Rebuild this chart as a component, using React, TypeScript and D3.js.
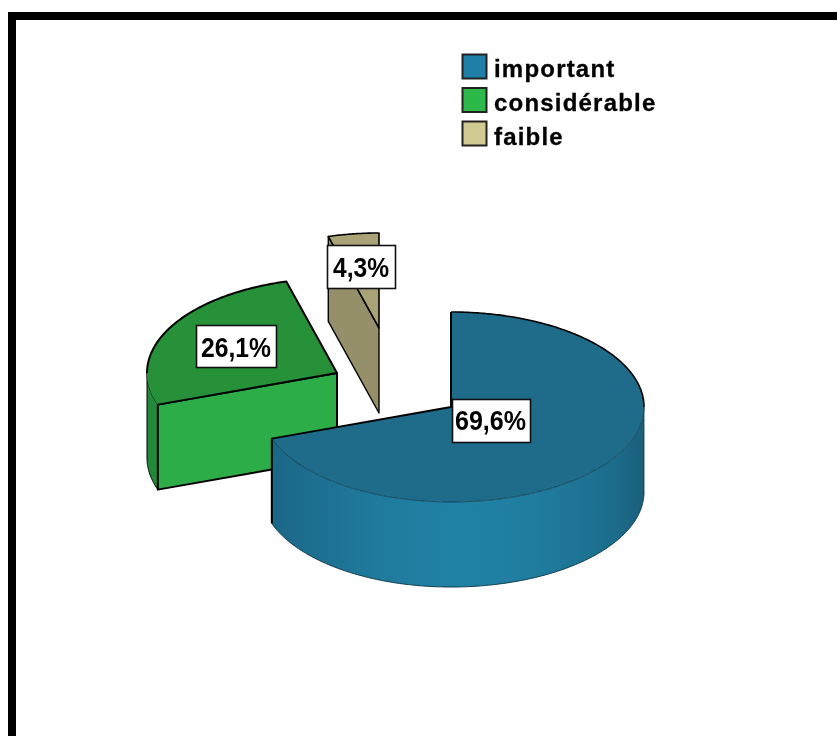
import React from "react";
import * as d3 from "d3";

const categories = ["important", "considérable", "faible"];
const seriesValues = [69.6, 26.1, 4.3];
const valueLabels = ["69,6%", "26,1%", "4,3%"];
const topColors = ["#1e6c8a", "#27913a", "#a9a377"];
const faceColors = ["#1e6c8a", "#2dad48", "#96906a"];
const swatchColors = ["#1f7fa6", "#2db84a", "#d1cb93"];

const W = 837;
const H = 736;
const RX_EAST = 193;
const RX_WEST = 190;
const RY = 95;
const DEPTH = 85;
// Exploded slice centres on the canvas.
const centres: [number, number][] = [[451, 407], [337, 373], [379, 328]];
const labelBoxes = [
  { x: 452, y: 399, w: 78, h: 43, tx: 455, tw: 71, base: 430 },
  { x: 196, y: 325, w: 80, h: 42, tx: 201, tw: 70, base: 357 },
  { x: 327, y: 245, w: 68, h: 43, tx: 333, tw: 56, base: 277 },
];

const pie = d3.pie<number>().sort(null).value((d) => d);
const arcs = pie(seriesValues);

type P = [number, number];

// Point on the rim; the receding west half is drawn slightly narrower.
function pt(c: P, a: number, dy = 0): P {
  const s = Math.sin(a);
  return [c[0] + (s < 0 ? RX_WEST : RX_EAST) * s, c[1] - RY * Math.cos(a) + dy];
}

function rim(c: P, a0: number, a1: number, dy = 0): P[] {
  const n = Math.max(2, Math.ceil(Math.abs(a1 - a0) / 0.01));
  return d3.range(n + 1).map((i) => pt(c, a0 + ((a1 - a0) * i) / n, dy));
}

const line = d3.line<P>();

function topPath(c: P, a0: number, a1: number) {
  return `${line([...rim(c, a0, a1), c])}Z`;
}

function wallPath(c: P, a0: number, a1: number) {
  return `${line([...rim(c, a0, a1), ...rim(c, a1, a0, DEPTH)])}Z`;
}

function cutFace(c: P, a: number) {
  const edge = pt(c, a);
  return `${line([edge, c, [c[0], c[1] + DEPTH], [edge[0], edge[1] + DEPTH]])}Z`;
}

export default function App() {
  const [mainC, gC, bC] = centres;
  const [m, g, b] = arcs;
  const west = Math.PI * 1.5;
  const east = Math.PI / 2;

  return (
    <svg
      width={W}
      height={H}
      viewBox={`0 0 ${W} ${H}`}
      style={{ position: "absolute", left: 0, top: 0, background: "#fff", filter: "blur(0.5px)" }}
    >
      <defs>
        <linearGradient id="wallMain" gradientUnits="userSpaceOnUse" x1={272} x2={644} y1={0} y2={0}>
          <stop offset="0" stopColor="#1c6787" />
          <stop offset="0.28" stopColor="#1f7a9d" />
          <stop offset="0.5" stopColor="#2082a6" />
          <stop offset="0.72" stopColor="#1f7c9e" />
          <stop offset="0.92" stopColor="#1c6c8b" />
          <stop offset="1" stopColor="#1a5f7b" />
        </linearGradient>
      </defs>

      <rect x={12} y={16} width={W + 20} height={H + 20} fill="#fff" stroke="#000" strokeWidth={8} />

      {/* faible: cut face, then top */}
      <path d={cutFace(bC, b.startAngle)} fill={faceColors[2]} stroke="#000" strokeWidth={1.4} strokeLinejoin="round" />
      <path d={topPath(bC, b.startAngle, b.endAngle)} fill={topColors[2]} stroke="#000" strokeWidth={1.6} strokeLinejoin="round" />

      {/* considérable: outer wall, cut face, top */}
      <path d={wallPath(gC, g.startAngle, west)} fill="#22883a" stroke="#000" strokeWidth={1} />
      <path d={cutFace(gC, g.startAngle)} fill={faceColors[1]} stroke="#000" strokeWidth={2} strokeLinejoin="round" />
      <path d={topPath(gC, g.startAngle, g.endAngle)} fill={topColors[1]} stroke="none" />
      <path
        d={line([...rim(gC, west, g.endAngle), gC, pt(gC, g.startAngle)]) ?? ""}
        fill="none"
        stroke="#000"
        strokeWidth={2}
        strokeLinejoin="round"
      />

      {/* important: wall seen from the east rim round to the slice end */}
      <path d={wallPath(mainC, east, m.endAngle)} fill="url(#wallMain)" stroke="none" />
      <path d={topPath(mainC, m.startAngle, m.endAngle)} fill={topColors[0]} stroke="none" />
      <path d={line(rim(mainC, east, m.endAngle)) ?? ""} fill="none" stroke="#0e3a4c" strokeWidth={0.8} />
      <path d={line(rim(mainC, east, m.endAngle, DEPTH)) ?? ""} fill="none" stroke="#0e3a4c" strokeWidth={1} />
      <path
        d={line([pt(mainC, m.endAngle, DEPTH), pt(mainC, m.endAngle), mainC, pt(mainC, 0)]) ?? ""}
        fill="none"
        stroke="#000"
        strokeWidth={2}
        strokeLinejoin="round"
      />
      <path d={line(rim(mainC, 0, east)) ?? ""} fill="none" stroke="#000" strokeWidth={1.6} />
      <path d={line([pt(mainC, east), pt(mainC, east, DEPTH)]) ?? ""} fill="none" stroke="#0e3a4c" strokeWidth={0.8} />

      {/* value labels */}
      {valueLabels.map((label, i) => {
        const box = labelBoxes[i];
        return (
          <g key={label}>
            <rect x={box.x + 0.5} y={box.y + 0.5} width={box.w} height={box.h} fill="#fff" stroke="#111" strokeWidth={1.6} />
            <text
              x={box.tx}
              y={box.base}
              fontFamily="'Liberation Sans', Arial, sans-serif"
              fontWeight={700}
              fontSize={27}
              textLength={box.tw}
              lengthAdjust="spacingAndGlyphs"
              fill="#000"
            >
              {label}
            </text>
          </g>
        );
      })}

      {/* legend */}
      {categories.map((name, i) => (
        <g key={name}>
          <rect x={462.5} y={54.5 + i * 33.5} width={24} height={24} fill={swatchColors[i]} stroke="#222" strokeWidth={2} />
          <text
            x={494}
            y={77 + i * 34}
            fontFamily="'Liberation Sans', Arial, sans-serif"
            fontWeight={700}
            fontSize={24}
            letterSpacing={1.2}
            stroke="#000"
            strokeWidth={0.3}
            fill="#000"
          >
            {name}
          </text>
        </g>
      ))}
    </svg>
  );
}
